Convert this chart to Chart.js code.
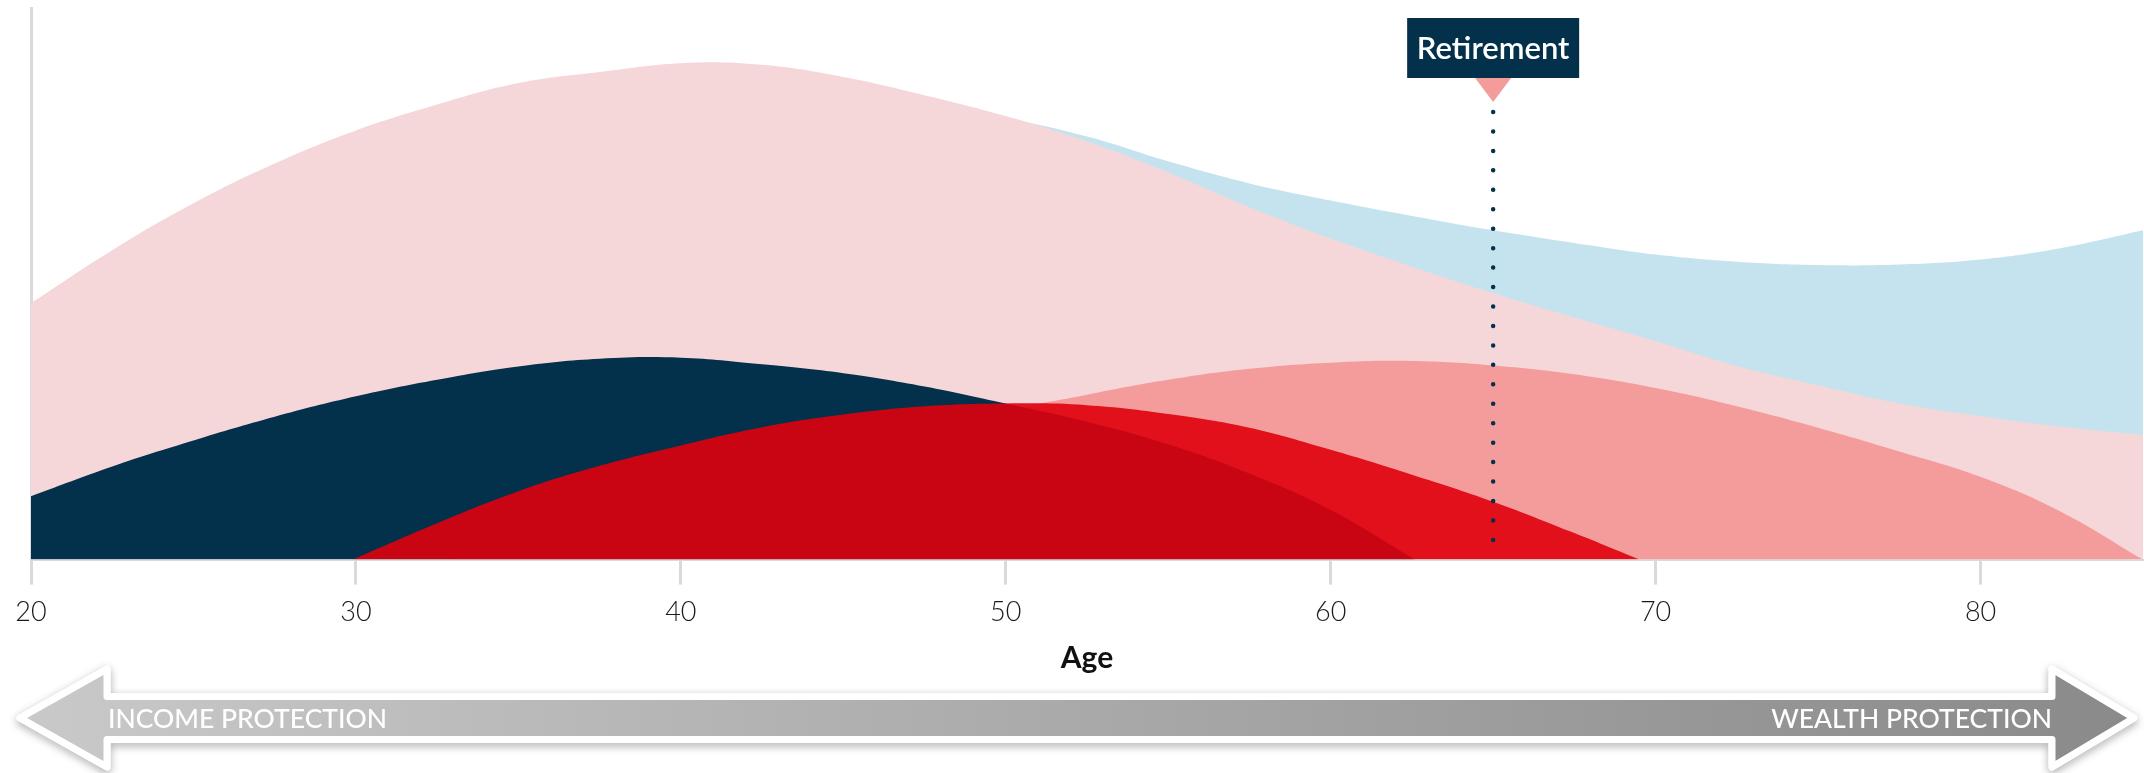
<!DOCTYPE html>
<html>
<head>
<meta charset="utf-8">
<script src="https://cdn.jsdelivr.net/npm/chart.js@4.4.1/dist/chart.umd.min.js"></script>
<style>
  html, body { margin: 0; padding: 0; background: #fff; }
  #wrap { position: relative; width: 2144px; height: 773px; }
</style>
</head>
<body>
<div id="wrap"><canvas id="lifeChart"></canvas></div>
<script>
// Akse og etiketter
const ageTicks = [20, 30, 40, 50, 60, 70, 80];
const ageMin = 20;
const ageMax = 85;
const retirementAge = 65;
const retirementLabel = 'Retirement';
const xTitle = 'Age';
const leftArrowLabel = 'INCOME PROTECTION';
const rightArrowLabel = 'WEALTH PROTECTION';

// Lyseblå (bagerst)
const blueAges   = [20, 25, 30, 35, 40, 45, 47.5, 50, 52.5, 55, 57.5, 60, 62.5, 65, 67.5, 70, 72.5, 75, 77.5, 80, 82.5, 85];
const blueValues = [30, 45, 58, 68, 76, 80, 80.3, 79.8, 76.7, 72.2, 68.2, 65.1, 62.3, 59.7, 57.4, 55.3, 54.0, 53.4, 53.5, 54.4, 56.5, 59.7];

// Lyserød
const pinkAges   = [20, 22.5, 25, 27.5, 30, 32.5, 35, 37.5, 40, 42.5, 45, 47.5, 50, 52.5, 55, 57.5, 60, 62.5, 65, 67.5, 70, 72.5, 75, 77.5, 80, 82.5, 85];
const pinkValues = [46.5, 56.1, 64.6, 71.8, 77.8, 82.5, 86.4, 88.4, 90.0, 89.7, 87.5, 84.2, 80.4, 75.8, 70.2, 63.9, 58.2, 53.1, 48.3, 43.9, 39.6, 35.1, 31.6, 28.3, 26.0, 24.1, 22.6];

// Laks
const salmonAges   = [33, 37.5, 42.5, 47.5, 50, 52.5, 55, 57.5, 60, 62.5, 65, 67.5, 70, 72.5, 75, 77.5, 80, 82.5, 85];
const salmonValues = [0, 6, 14, 22, 26.8, 29.9, 32.6, 34.6, 35.7, 36.0, 35.2, 33.6, 31.1, 27.8, 23.9, 19.6, 15.0, 8.6, 0];

// Mørkeblå
const navyAges   = [20, 22.5, 25, 27.5, 30, 32.5, 35, 37.5, 40, 42.5, 45, 47.5, 50, 52.5, 55, 57.5, 60, 62.6];
const navyValues = [11.5, 16.9, 21.6, 25.9, 29.6, 32.6, 35.0, 36.4, 36.6, 35.4, 33.8, 31.4, 28.3, 25.0, 20.9, 15.6, 9.0, 0];

// Rød (forrest, let gennemsigtig)
const redAges   = [29.9, 32.5, 35, 37.5, 40, 42.5, 45, 47.5, 50, 52.5, 55, 57.5, 60, 62.5, 65, 67.5, 69.5];
const redValues = [0, 6.6, 12.4, 17.0, 20.7, 24.0, 26.3, 27.8, 28.3, 28.0, 26.4, 23.9, 19.9, 15.4, 10.5, 4.8, 0];

const toPoints = (ages, values) => ages.map((a, i) => ({ x: a, y: values[i] }));

const area = (ages, values, color, order) => ({
    data: toPoints(ages, values),
    backgroundColor: color,
    borderWidth: 0,
    pointRadius: 0,
    fill: 'origin',
    tension: 0.4,
    order
});

const NAVY = '#03304a';
const SALMON = '#f39c9b';
const FONT = 'Lato, "Open Sans", sans-serif';

// Pensions-markør: prikket linje + label
const retirementPlugin = {
    id: 'retirement',
    afterDatasetsDraw(chart) {
        const { ctx, chartArea, scales: { x } } = chart;
        const px = x.getPixelForValue(retirementAge);
        const boxTop = chartArea.top + 10;
        const boxH = 60;
        const boxW = 172;
        const triH = 24;
        const triW = 36;

        ctx.save();
        ctx.fillStyle = NAVY;
        ctx.fillRect(px - boxW / 2, boxTop, boxW, boxH);

        ctx.fillStyle = SALMON;
        ctx.beginPath();
        ctx.moveTo(px - triW / 2, boxTop + boxH);
        ctx.lineTo(px + triW / 2, boxTop + boxH);
        ctx.lineTo(px, boxTop + boxH + triH);
        ctx.closePath();
        ctx.fill();

        ctx.fillStyle = '#fff';
        ctx.font = '600 31px ' + FONT;
        ctx.textAlign = 'center';
        ctx.textBaseline = 'middle';
        ctx.fillText(retirementLabel, px, boxTop + boxH / 2 + 1);

        ctx.strokeStyle = NAVY;
        ctx.lineWidth = 4.5;
        ctx.lineCap = 'round';
        ctx.setLineDash([0, 19.45]);
        ctx.beginPath();
        ctx.moveTo(px, boxTop + boxH + 34);
        ctx.lineTo(px, chartArea.bottom - 16);
        ctx.stroke();
        ctx.restore();
    }
};

// Grå dobbeltpil nederst
const arrowPlugin = {
    id: 'protectionArrow',
    afterDraw(chart) {
        const { ctx, width, height } = chart;
        const cy = height - 55;
        const headH = 49;
        const shaftH = 21.5;
        const lTip = 20, lBack = 107;
        const rTip = width - 10, rBack = width - 92;

        ctx.save();
        ctx.beginPath();
        ctx.moveTo(lTip, cy);
        ctx.lineTo(lBack, cy - headH);
        ctx.lineTo(lBack, cy - shaftH);
        ctx.lineTo(rBack, cy - shaftH);
        ctx.lineTo(rBack, cy - headH);
        ctx.lineTo(rTip, cy);
        ctx.lineTo(rBack, cy + headH);
        ctx.lineTo(rBack, cy + shaftH);
        ctx.lineTo(lBack, cy + shaftH);
        ctx.lineTo(lBack, cy + headH);
        ctx.closePath();

        const grad = ctx.createLinearGradient(lTip, 0, rTip, 0);
        grad.addColorStop(0, '#c9c9c9');
        grad.addColorStop(1, '#8a8a8a');

        ctx.lineJoin = 'round';
        ctx.shadowColor = 'rgba(0,0,0,0.35)';
        ctx.shadowBlur = 8;
        ctx.shadowOffsetY = 3;
        ctx.strokeStyle = '#fff';
        ctx.lineWidth = 7;
        ctx.stroke();
        ctx.shadowColor = 'transparent';
        ctx.fillStyle = grad;
        ctx.fill();
        ctx.stroke();

        ctx.fillStyle = '#fff';
        ctx.font = '500 26.5px ' + FONT;
        ctx.textBaseline = 'middle';
        ctx.textAlign = 'left';
        ctx.fillText(leftArrowLabel, lBack + 1, cy + 1);
        ctx.textAlign = 'right';
        ctx.fillText(rightArrowLabel, rBack, cy + 1);
        ctx.restore();
    }
};

const ctx = document.getElementById('lifeChart').getContext('2d');

new Chart(ctx, {
    type: 'line',
    data: {
        datasets: [
            area(redAges, redValues, 'rgba(223,1,13,0.9)', 0),
            area(navyAges, navyValues, NAVY, 1),
            area(salmonAges, salmonValues, SALMON, 2),
            area(pinkAges, pinkValues, '#f6d7d9', 3),
            area(blueAges, blueValues, '#c5e3ee', 4)
        ]
    },
    options: {
        responsive: true,
        maintainAspectRatio: false,
        animation: false,
        layout: { padding: { top: 8, left: 31, right: 1, bottom: 97 } },
        plugins: {
            legend: { display: false },
            tooltip: { enabled: false }
        },
        scales: {
            x: {
                type: 'linear',
                min: ageMin,
                max: ageMax,
                afterBuildTicks: axis => { axis.ticks = ageTicks.map(v => ({ value: v })); },
                grid: {
                    drawOnChartArea: false,
                    drawTicks: true,
                    tickLength: 25,
                    tickWidth: 3,
                    tickColor: '#dadada',
                    color: '#dadada'
                },
                border: { display: true, color: '#dadada', width: 2 },
                ticks: {
                    padding: 11,
                    color: '#1a1a1a',
                    font: { family: FONT, size: 27, weight: '300' },
                    maxRotation: 0
                },
                title: {
                    display: true,
                    text: xTitle,
                    color: '#111',
                    padding: { top: 1, bottom: 0 },
                    font: { family: FONT, size: 30, weight: '700' }
                }
            },
            y: {
                min: 0,
                max: 100,
                ticks: { display: false },
                grid: { display: false, drawTicks: false },
                border: { display: true, color: '#dadada', width: 3 }
            }
        }
    },
    plugins: [retirementPlugin, arrowPlugin]
});
</script>
</body>
</html>
